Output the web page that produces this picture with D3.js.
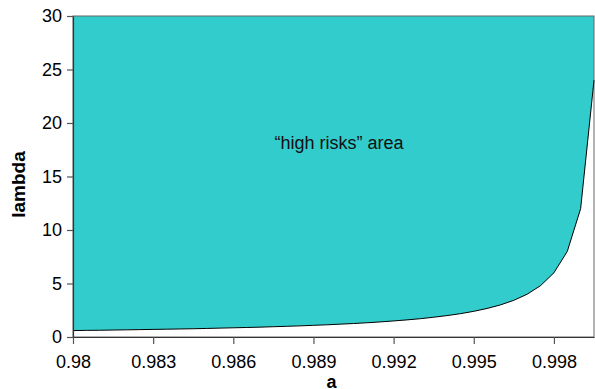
<!DOCTYPE html>
<html>
<head>
<meta charset="utf-8">
<script src="https://cdn.jsdelivr.net/npm/d3@7"></script>
<style>
  html, body { margin: 0; padding: 0; background: #fff; }
  svg { display: block; font-family: "Liberation Sans", Arial, sans-serif; }
</style>
</head>
<body>
<svg id="chart" width="595" height="389"></svg>
<script>
// Threshold curve: lambda as a function of a
const aValues = [
  0.9800, 0.9805, 0.9810, 0.9815, 0.9820, 0.9825, 0.9830, 0.9835, 0.9840, 0.9845,
  0.9850, 0.9855, 0.9860, 0.9865, 0.9870, 0.9875, 0.9880, 0.9885, 0.9890, 0.9895,
  0.9900, 0.9905, 0.9910, 0.9915, 0.9920, 0.9925, 0.9930, 0.9935, 0.9940, 0.9945,
  0.9950, 0.9955, 0.9960, 0.9965, 0.9970, 0.9975, 0.9980, 0.9985, 0.9990, 0.9995
];
const lambdaValues = [
  0.60, 0.62, 0.63, 0.65, 0.67, 0.69, 0.71, 0.73, 0.75, 0.77,
  0.80, 0.83, 0.86, 0.89, 0.92, 0.96, 1.00, 1.04, 1.09, 1.14,
  1.20, 1.26, 1.33, 1.41, 1.50, 1.60, 1.71, 1.85, 2.00, 2.18,
  2.40, 2.67, 3.00, 3.43, 4.00, 4.80, 6.00, 8.00, 12.00, 24.00
];
const xTicks = [0.98, 0.983, 0.986, 0.989, 0.992, 0.995, 0.998];
const xTickLabels = ["0.98", "0.983", "0.986", "0.989", "0.992", "0.995", "0.998"];
const yTicks = [0, 5, 10, 15, 20, 25, 30];
const xDomain = [0.98, 0.9995];
const yDomain = [0, 30];
const regionLabel = "\u201chigh risks\u201d area";
const xTitle = "a";
const yTitle = "lambda";

const points = aValues.map((a, i) => ({ a, v: lambdaValues[i] }));

const margin = { left: 73, right: 1, top: 16, bottom: 52 };
const W = 595, H = 389;
const svg = d3.select("#chart");

const x = d3.scaleLinear().domain(xDomain).range([margin.left, W - margin.right]);
const y = d3.scaleLinear().domain(yDomain).range([H - margin.bottom, margin.top]);

// shaded region above the curve
const area = d3.area()
  .x(d => x(d.a))
  .y0(y(yDomain[1]))
  .y1(d => y(d.v));
svg.append("path")
  .datum(points)
  .attr("d", area)
  .attr("fill", "#33CCCC");

// frame around the plot
svg.append("rect")
  .attr("x", x.range()[0]).attr("y", y.range()[1])
  .attr("width", x.range()[1] - x.range()[0])
  .attr("height", y.range()[0] - y.range()[1])
  .attr("fill", "none").attr("stroke", "#666").attr("stroke-width", 1);

// boundary curve
svg.append("path")
  .datum(points)
  .attr("d", d3.line().x(d => x(d.a)).y(d => y(d.v)))
  .attr("fill", "none").attr("stroke", "#000").attr("stroke-width", 1);

// axes
const xAxis = d3.axisBottom(x).tickValues(xTicks)
  .tickFormat((d, i) => xTickLabels[i]).tickSizeOuter(0).tickSizeInner(7).tickPadding(11);
const gx = svg.append("g").attr("transform", `translate(0,${y.range()[0]})`).call(xAxis);

const yAxis = d3.axisLeft(y).tickValues(yTicks).tickSizeOuter(0).tickSizeInner(6).tickPadding(5);
const gy = svg.append("g").attr("transform", `translate(${x.range()[0]},0)`).call(yAxis);

[gx, gy].forEach(g => {
  g.select(".domain").attr("stroke", "#333").attr("stroke-width", 1.2);
  g.selectAll(".tick line").attr("stroke", "#555").attr("stroke-width", 1.2);
  g.selectAll(".tick text")
    .attr("fill", "#000")
    .style("font-size", "18px")
    .style("font-family", "'Liberation Sans', Arial, sans-serif");
});

// axis titles
svg.append("text")
  .attr("x", (x.range()[0] + x.range()[1]) / 2 - 2)
  .attr("y", 388)
  .attr("text-anchor", "middle")
  .style("font-size", "18px").style("font-weight", "bold")
  .text(xTitle);

svg.append("text")
  .attr("transform", `translate(25,${(y.range()[0] + y.range()[1]) / 2 + 8}) rotate(-90)`)
  .attr("text-anchor", "middle")
  .style("font-size", "19px").style("font-weight", "bold")
  .text(yTitle);

// region annotation
svg.append("text")
  .attr("x", 339)
  .attr("y", 149)
  .attr("text-anchor", "middle")
  .attr("fill", "#111")
  .style("font-size", "18px")
  .text(regionLabel);
</script>
</body>
</html>
